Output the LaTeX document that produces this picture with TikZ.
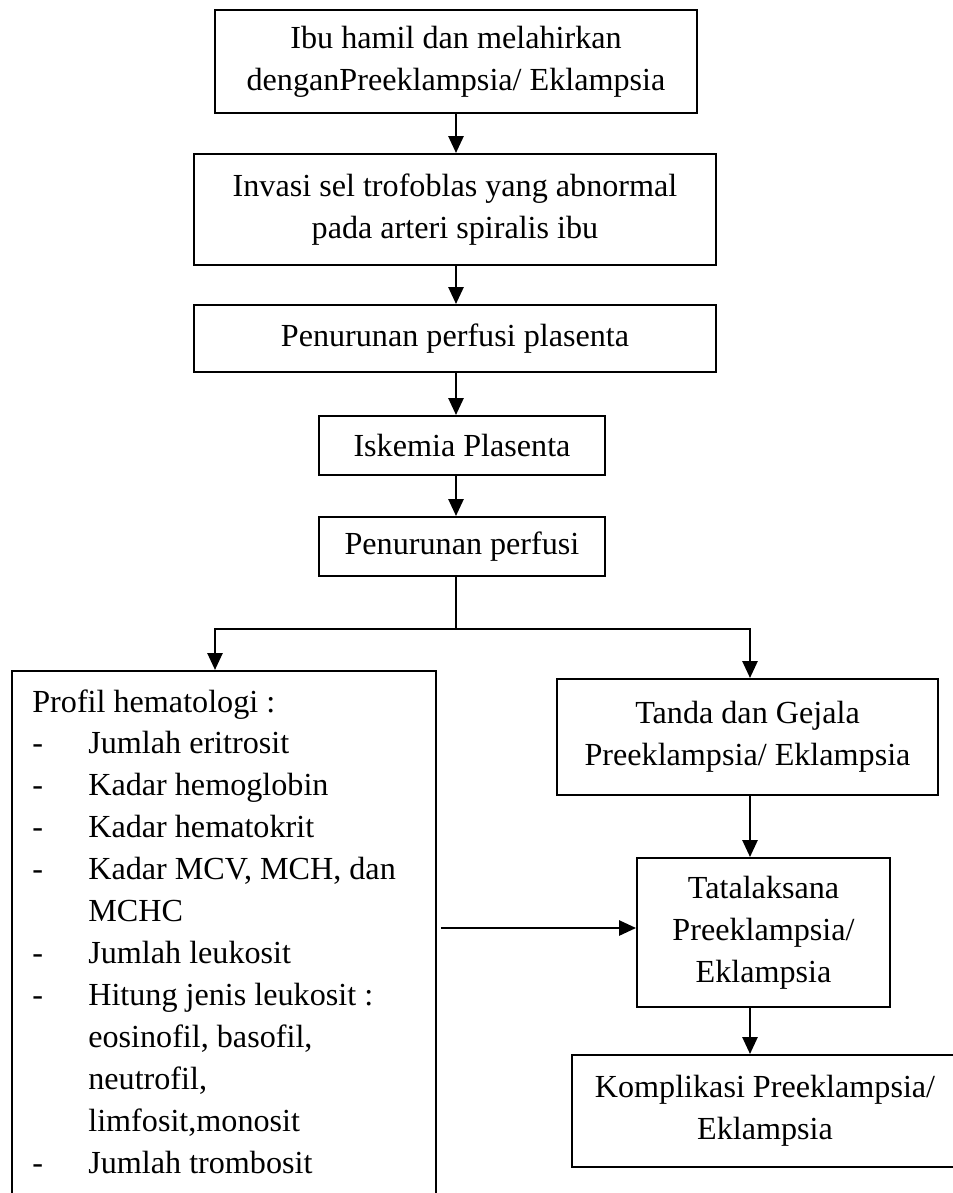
\documentclass[tikz,border=0pt]{standalone}
\usepackage{fontspec}
\setmainfont{Liberation Serif}
\usetikzlibrary{arrows.meta}
\newcommand{\itm}{\makebox[1.12cm][l]{-}}
\newcommand{\indt}{\hspace*{1.12cm}}

\begin{document}
\begin{tikzpicture}[x=0.02cm,y=-0.02cm,
  box node/.style={draw,rectangle,line width=1.1pt,align=center,inner sep=0pt,font=\fontsize{18.3}{23.9}\selectfont},
  arrow line/.style={line width=1.5pt,-{Triangle[length=0.34cm,width=0.3cm]}}]

\path[use as bounding box] (0,0) rectangle (953,1193);
\clip (0,0) rectangle (953,1193);

% main column
\node at (456,61.5) [box node,minimum width=9.64cm,minimum height=2.06cm] (ibu) {Ibu hamil dan melahirkan\\denganPreeklampsia/ Eklampsia};
\node at (455,209.5) [box node,minimum width=10.44cm,minimum height=2.22cm] (invasi) {Invasi sel trofoblas yang abnormal\\pada arteri spiralis ibu};
\node at (455,338.5) [box node,minimum width=10.44cm,minimum height=1.34cm] (plasenta) {Penurunan perfusi plasenta};
\node at (462,445.5) [box node,minimum width=5.72cm,minimum height=1.18cm] (iskemia) {Iskemia Plasenta};
\node at (462,546.5) [box node,minimum width=5.72cm,minimum height=1.18cm] (perfusi) {Penurunan perfusi};

% left: hematology profile (box runs past the bottom)
\node at (11,670) [box node,anchor=north west,minimum width=8.48cm,minimum height=11.2cm] (hem) {};
\node at (32,689) [anchor=north west,align=left,inner sep=0pt,font=\fontsize{18.3}{23.9}\selectfont] (hemtext) {Profil hematologi :\\
\itm Jumlah eritrosit\\
\itm Kadar hemoglobin\\
\itm Kadar hematokrit\\
\itm Kadar MCV, MCH, dan\\
\indt MCHC\\
\itm Jumlah leukosit\\
\itm Hitung jenis leukosit :\\
\indt eosinofil, basofil,\\
\indt neutrofil,\\
\indt limfosit,monosit\\
\itm Jumlah trombosit};

% right column
\node at (747.5,737) [box node,minimum width=7.62cm,minimum height=2.32cm] (tanda) {Tanda dan Gejala\\Preeklampsia/ Eklampsia};
\node at (763.5,932.5) [box node,minimum width=5.06cm,minimum height=2.98cm] (tata) {Tatalaksana\\Preeklampsia/\\Eklampsia};
\node at (765,1111) [box node,minimum width=7.72cm,minimum height=2.24cm] (komp) {Komplikasi Preeklampsia/\\Eklampsia};

\coordinate (split) at (456,629);
\coordinate (splitL) at (215,629);
\coordinate (splitR) at (750,629);
\coordinate (lvl) at (0,928);

\draw[arrow line] (ibu.south) -- (ibu |- invasi.north);
\draw[arrow line] (invasi.south -| ibu) -- (ibu |- plasenta.north);
\draw[arrow line] (plasenta.south -| ibu) -- (ibu |- iskemia.north);
\draw[arrow line] (iskemia.south -| ibu) -- (ibu |- perfusi.north);
\draw[line width=1.5pt] (perfusi.south -| ibu) -- (split);
\draw[arrow line] (split) -- (splitL) -- (splitL |- hem.north);
\draw[arrow line] (split) -- (splitR) -- (splitR |- tanda.north);
\draw[arrow line] (tanda.south -| splitR) -- (tata.north -| splitR);
\draw[arrow line] (tata.south -| splitR) -- (komp.north -| splitR);
\draw[arrow line,shorten <=0.08cm] (hem.east |- lvl) -- (tata.west |- lvl);

\end{tikzpicture}
\end{document}
